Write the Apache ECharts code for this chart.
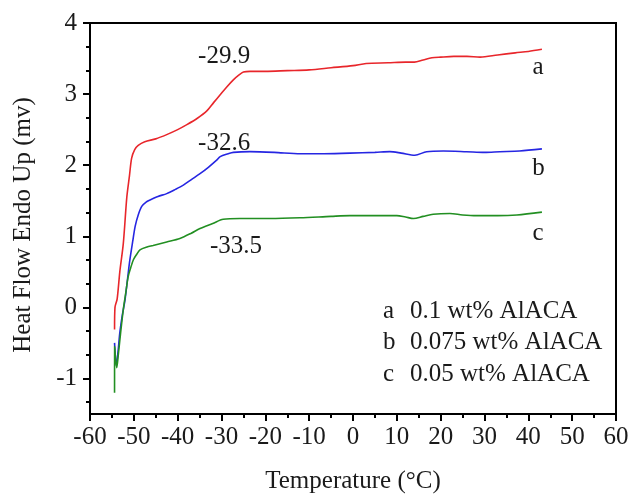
<!DOCTYPE html>
<html>
<head>
<meta charset="utf-8">
<script src="https://cdn.jsdelivr.net/npm/echarts@6/dist/echarts.min.js"></script>
<style>html,body{margin:0;padding:0;background:#fff}#main{width:630px;height:494px}</style>
</head>
<body>
<div id="main"></div>
<script>
// ---- data ----
const tempA = [-54.4,-54.3,-53.8,-53.2,-52.4,-51.6,-51.0,-50.5,-49.8,-49.0,-47.5,-45,-42.5,-40,-37.9,-35.5,-33.4,-31.8,-30.3,-28.8,-27.3,-26,-25,-23.5,-20,-15,-10,-5,0,3,8,12,14,16,18,20,23,26,29,33,37,40,43.1];
const flowA = [-0.31,0.0,0.12,0.5,0.9,1.55,1.85,2.10,2.22,2.28,2.33,2.37,2.43,2.50,2.57,2.66,2.76,2.88,2.99,3.10,3.20,3.27,3.31,3.32,3.32,3.33,3.34,3.37,3.40,3.43,3.44,3.45,3.45,3.48,3.51,3.52,3.53,3.53,3.52,3.55,3.58,3.60,3.63];

const tempB = [-54.4,-54.0,-53.6,-53.2,-52.6,-52.0,-51.4,-50.9,-50.2,-49.7,-49.0,-48.2,-47.2,-46.3,-44.5,-42.5,-40.5,-38.7,-36.8,-34.9,-33,-31.1,-30.3,-28.5,-27.3,-23.5,-18,-12,-7.5,-0.7,5,8.4,11,14.1,16.8,20.6,25.9,30,33.5,38,43.1];
const flowB = [-0.5,-0.82,-0.62,-0.36,-0.1,0.11,0.42,0.67,0.95,1.14,1.30,1.42,1.48,1.51,1.56,1.60,1.66,1.72,1.80,1.88,1.97,2.07,2.12,2.16,2.18,2.19,2.18,2.16,2.16,2.17,2.18,2.19,2.17,2.14,2.19,2.20,2.19,2.18,2.19,2.20,2.23];

const tempC = [-54.4,-54.38,-53.9,-53.5,-53,-52.4,-51.8,-51.3,-50.7,-50.1,-49.3,-48.6,-47,-45.6,-42.5,-39.5,-37,-34.9,-32,-29.6,-25.8,-18.9,-12.1,-5,-0.7,5,10,12,13.8,16,18.3,22.1,25,28.2,33,37.4,43.1];
const flowC = [-1.2,-0.55,-0.85,-0.64,-0.35,-0.03,0.22,0.43,0.56,0.67,0.75,0.81,0.85,0.87,0.92,0.97,1.04,1.11,1.18,1.24,1.25,1.25,1.26,1.28,1.29,1.29,1.29,1.27,1.25,1.28,1.31,1.32,1.30,1.29,1.29,1.30,1.34];

const xTicks = [-60,-50,-40,-30,-20,-10,0,10,20,30,40,50,60];
const yTicks = [-1,0,1,2,3,4];

const seriesNames = ['a','b','c'];
const seriesColors = ['#e8262b','#2626e2','#228f22'];

const annoText = ['-29.9','-32.6','-33.5','a','b','c'];
const annoTemp = [-29.4,-29.4,-26.7,42.2,42.3,42.2];
const annoFlow = [3.53,2.30,0.86,3.37,1.95,1.04];

const legendKeys = ['a','b','c'];
const legendLabels = ['0.1 wt% AlACA','0.075 wt% AlACA','0.05 wt% AlACA'];

// ---- build ----
const zip = (xs, ys) => xs.map((x, i) => [x, ys[i]]);
const FONT = "'Liberation Serif','Times New Roman',serif";
const TXT = '#1a1a1a';
const yMinor = [];
yTicks.concat([-2]).forEach(v => { [1/3, 2/3].forEach(f => { const m = v + f; if (m > -1.5 && m < 4) yMinor.push(m); }); });

const chart = echarts.init(document.getElementById('main'), null, {renderer: 'canvas'});
const option = {
  animation: false,
  backgroundColor: '#fff',
  grid: {left: 90, top: 23, right: 14, bottom: 80, show: true, borderColor: '#000', borderWidth: 2, outerBoundsMode: 'none'},
  xAxis: {
    type: 'value', min: -60, max: 60, interval: 10,
    name: 'Temperature (°C)', nameLocation: 'middle', nameGap: 55,
    nameTextStyle: {fontFamily: FONT, fontSize: 25, color: TXT},
    axisLine: {show: true, onZero: false, lineStyle: {color: '#000', width: 2}},
    axisTick: {show: true, inside: false, length: 7, lineStyle: {color: '#000', width: 2}},
    minorTick: {show: true, splitNumber: 2, length: 4, lineStyle: {color: '#000', width: 2}},
    splitLine: {show: false},
    axisLabel: {fontFamily: FONT, fontSize: 25, color: TXT, margin: 11,
      formatter: v => xTicks.includes(v) ? String(v) : ''}
  },
  yAxis: [{
    type: 'value', min: -1.5, max: 4, position: 'left',
    axisLine: {show: true, onZero: false, lineStyle: {color: '#000', width: 2}},
    axisTick: {show: true, inside: false, length: 7, customValues: yTicks, lineStyle: {color: '#000', width: 2}},
    splitLine: {show: false},
    axisLabel: {fontFamily: FONT, fontSize: 25, color: TXT, margin: 13, customValues: yTicks,
      formatter: v => String(v)}
  }, {
    type: 'value', min: -1.5, max: 4, position: 'left', offset: 0,
    axisLine: {show: false, onZero: false},
    axisTick: {show: true, inside: false, length: 4, customValues: yMinor, lineStyle: {color: '#000', width: 2}},
    splitLine: {show: false},
    axisLabel: {show: false}
  }],
  series: [zip(tempA, flowA), zip(tempB, flowB), zip(tempC, flowC)].map((d, i) => ({
    name: seriesNames[i], type: 'line', data: d, showSymbol: false, smooth: 0.3,
    lineStyle: {color: seriesColors[i], width: 1.6}, itemStyle: {color: seriesColors[i]},
    yAxisIndex: 0
  }))
};
chart.setOption(option);

const elems = annoText.map((t, i) => {
  const p = chart.convertToPixel({xAxisIndex: 0, yAxisIndex: 0}, [annoTemp[i], annoFlow[i]]);
  return {type: 'text', x: p[0], y: p[1], style: {text: t, font: '25px ' + FONT, fill: TXT, textAlign: 'center', textVerticalAlign: 'middle'}};
});
legendKeys.forEach((k, i) => {
  elems.push({type: 'text', x: 383, y: 311 + i * 31.7, style: {text: k, font: '25px ' + FONT, fill: TXT, textAlign: 'left', textVerticalAlign: 'middle'}});
  elems.push({type: 'text', x: 410, y: 311 + i * 31.7, style: {text: legendLabels[i], font: '25px ' + FONT, fill: TXT, textAlign: 'left', textVerticalAlign: 'middle'}});
});
elems.push({type: 'text', x: 23, y: 225, rotation: Math.PI / 2,
  style: {text: 'Heat Flow Endo Up (mv)', font: '25px ' + FONT, fill: TXT, textAlign: 'center', textVerticalAlign: 'middle'}});
chart.setOption({graphic: {elements: elems}});
</script>
</body>
</html>
